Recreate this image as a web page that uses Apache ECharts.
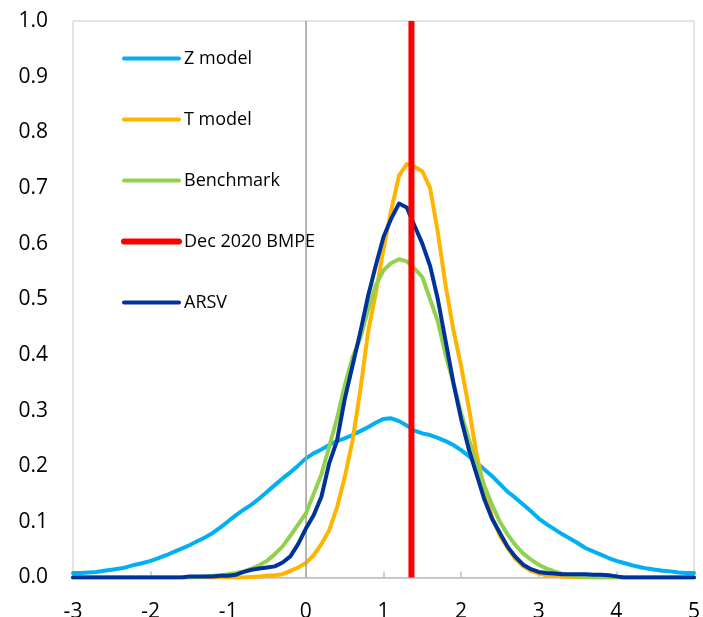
<!DOCTYPE html>
<html>
<head>
<meta charset="utf-8">
<script src="https://cdn.jsdelivr.net/npm/echarts@6/dist/echarts.min.js"></script>
<style>
  html, body { margin: 0; padding: 0; background: #fff; }
  #chart { width: 703px; height: 617px; }
</style>
</head>
<body>
<div id="chart"></div>
<script>
// x grid of the densities
const xs = [
  -3.0, -2.9, -2.8, -2.7, -2.6, -2.5, -2.4, -2.3, -2.2, -2.1,
  -2.0, -1.9, -1.8, -1.7, -1.6, -1.5, -1.4, -1.3, -1.2, -1.1,
  -1.0, -0.9, -0.8, -0.7, -0.6, -0.5, -0.4, -0.3, -0.2, -0.1,
  0.0, 0.1, 0.2, 0.3, 0.4, 0.5, 0.6, 0.7, 0.8, 0.9,
  1.0, 1.1, 1.2, 1.3, 1.4, 1.5, 1.6, 1.7, 1.8, 1.9,
  2.0, 2.1, 2.2, 2.3, 2.4, 2.5, 2.6, 2.7, 2.8, 2.9,
  3.0, 3.1, 3.2, 3.3, 3.4, 3.5, 3.6, 3.7, 3.8, 3.9,
  4.0, 4.1, 4.2, 4.3, 4.4, 4.5, 4.6, 4.7, 4.8, 4.9,
  5.0
];

const zModel = [
  0.008, 0.008, 0.009, 0.010, 0.012, 0.014, 0.016, 0.019, 0.023, 0.026,
  0.030, 0.035, 0.040, 0.046, 0.052, 0.058, 0.065, 0.072, 0.080, 0.090,
  0.101, 0.112, 0.122, 0.131, 0.142, 0.154, 0.166, 0.178, 0.189, 0.201,
  0.214, 0.223, 0.230, 0.238, 0.245, 0.250, 0.256, 0.263, 0.270, 0.278,
  0.285, 0.286, 0.281, 0.273, 0.264, 0.259, 0.256, 0.251, 0.245, 0.238,
  0.229, 0.218, 0.206, 0.194, 0.182, 0.168, 0.154, 0.143, 0.131, 0.119,
  0.106, 0.096, 0.087, 0.078, 0.070, 0.062, 0.053, 0.047, 0.041, 0.035,
  0.030, 0.026, 0.022, 0.019, 0.016, 0.014, 0.012, 0.011, 0.009, 0.008,
  0.008
];

const tModel = [
  0, 0, 0, 0, 0, 0, 0, 0, 0, 0,
  0, 0, 0, 0, 0, 0, 0, 0, 0, 0,
  0, 0, 0, 0.001, 0.002, 0.003, 0.004, 0.006, 0.012, 0.018,
  0.026, 0.040, 0.060, 0.085, 0.125, 0.180, 0.245, 0.335, 0.440, 0.510,
  0.590, 0.660, 0.722, 0.743, 0.738, 0.730, 0.700, 0.620, 0.525, 0.445,
  0.380, 0.305, 0.220, 0.160, 0.108, 0.075, 0.053, 0.033, 0.020, 0.012,
  0.007, 0.004, 0.003, 0.002, 0.001, 0, 0, 0, 0, 0,
  0, 0, 0, 0, 0, 0, 0, 0, 0, 0,
  0
];

const benchmark = [
  0, 0, 0, 0, 0, 0, 0, 0, 0, 0,
  0, 0, 0, 0, 0, 0, 0.001, 0.002, 0.003, 0.004,
  0.006, 0.008, 0.011, 0.016, 0.022, 0.030, 0.042, 0.056, 0.075, 0.095,
  0.115, 0.150, 0.185, 0.235, 0.285, 0.345, 0.395, 0.430, 0.480, 0.525,
  0.552, 0.565, 0.572, 0.568, 0.555, 0.540, 0.500, 0.460, 0.400, 0.350,
  0.295, 0.248, 0.205, 0.165, 0.130, 0.100, 0.077, 0.058, 0.043, 0.032,
  0.023, 0.016, 0.011, 0.007, 0.004, 0.002, 0.001, 0, 0, 0,
  0, 0, 0, 0, 0, 0, 0, 0, 0, 0,
  0
];

const arsv = [
  0, 0, 0, 0, 0, 0, 0, 0, 0, 0,
  0, 0, 0, 0, 0, 0.002, 0.002, 0.002, 0.002, 0.003,
  0.003, 0.005, 0.010, 0.014, 0.016, 0.018, 0.020, 0.027, 0.038, 0.060,
  0.088, 0.112, 0.145, 0.205, 0.245, 0.320, 0.380, 0.440, 0.505, 0.560,
  0.612, 0.645, 0.672, 0.665, 0.632, 0.600, 0.560, 0.500, 0.425, 0.350,
  0.285, 0.230, 0.185, 0.140, 0.105, 0.080, 0.055, 0.037, 0.023, 0.015,
  0.010, 0.008, 0.007, 0.006, 0.006, 0.006, 0.006, 0.005, 0.005, 0.004,
  0.002, 0, 0, 0, 0, 0, 0, 0, 0, 0,
  0
];

// Dec 2020 BMPE vertical marker
const bmpeX = [1.36, 1.36];
const bmpeY = [0, 1];

const names = ['Z model', 'T model', 'Benchmark', 'Dec 2020 BMPE', 'ARSV'];
const colors = ['#00B0F0', '#FFB400', '#92D050', '#FF0000', '#003399'];

const FONT = '"Open Sans", "Noto Sans", sans-serif';

function pairs(x, y) {
  return x.map((v, i) => [v, y[i]]);
}

const chart = echarts.init(document.getElementById('chart'));

// 曲线
const curve = (name, color, vals, z) => ({
  name: name,
  type: 'line',
  data: pairs(xs, vals),
  symbol: 'none',
  z: z,
  lineStyle: { color: color, width: 4, cap: 'round', join: 'round' },
  itemStyle: { color: color },
});

const zSeries = curve(names[0], colors[0], zModel, 3);
zSeries.markLine = {
  silent: true,
  symbol: 'none',
  label: { show: false },
  lineStyle: { color: '#a6a6a6', width: 1.5, type: 'solid' },
  data: [{ xAxis: 0 }],
};

chart.setOption({
  animation: false,
  backgroundColor: '#fff',
  textStyle: { fontFamily: FONT },
  grid: {
    left: 73,
    top: 21,
    right: 9,
    bottom: 39.5,
    outerBoundsMode: 'none',
    containLabel: false,
    show: true,
    borderColor: '#c8c8c8',
    borderWidth: 1,
  },
  legend: {
    orient: 'vertical',
    left: 121,
    top: 48,
    padding: 0,
    itemWidth: 55,
    itemHeight: 6,
    itemGap: 40,
    textStyle: { fontSize: 18, color: '#000', fontFamily: FONT, lineHeight: 21 },
    data: names.map((n, i) => ({
      name: n,
      itemStyle: { opacity: 0 },
      lineStyle: { width: i === 3 ? 6 : 4, cap: 'round', color: colors[i] },
    })),
  },
  xAxis: {
    type: 'value',
    min: -3,
    max: 5,
    interval: 1,
    axisLine: { show: true, lineStyle: { color: '#bfbfbf', width: 1.5 } },
    axisTick: { show: true, inside: true, length: 6, lineStyle: { color: '#bfbfbf', width: 1.5 } },
    axisLabel: { fontSize: 21, color: '#000', margin: 24, fontFamily: FONT },
    splitLine: { show: false },
  },
  yAxis: {
    type: 'value',
    min: 0,
    max: 1,
    interval: 0.1,
    axisLine: { show: true, lineStyle: { color: '#c8c8c8' } },
    axisTick: { show: false },
    axisLabel: {
      fontSize: 21,
      color: '#000',
      margin: 25,
      fontFamily: FONT,
      formatter: v => v.toFixed(1),
    },
    splitLine: { show: false },
  },
  series: [
    zSeries,
    curve(names[1], colors[1], tModel, 4),
    curve(names[2], colors[2], benchmark, 5),
    {
      name: names[3],
      type: 'line',
      data: pairs(bmpeX, bmpeY),
      symbol: 'none',
      z: 10,
      lineStyle: { color: colors[3], width: 6 },
      itemStyle: { color: colors[3] },
    },
    curve(names[4], colors[4], arsv, 6),
  ],
});
</script>
</body>
</html>
